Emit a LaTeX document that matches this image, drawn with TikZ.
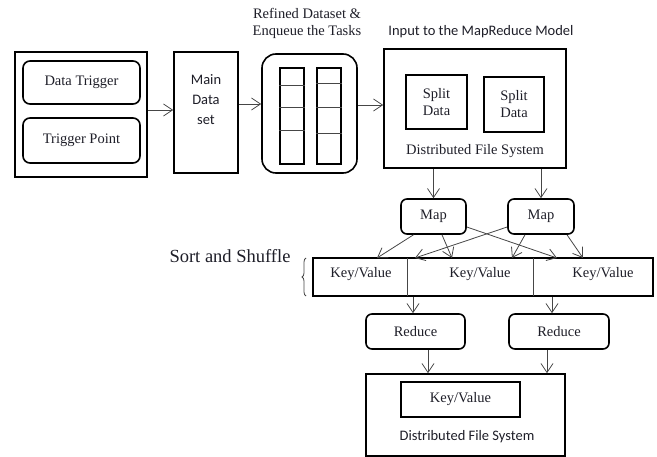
\documentclass[tikz,border=0pt]{standalone}
\usepackage{fontspec}
\setmainfont{Liberation Serif}
\newfontfamily\calibrifont{Carlito}
\usepackage{tikz}
\usetikzlibrary{arrows.meta,decorations.pathreplacing}
\definecolor{linegray}{RGB}{70,70,70}
\definecolor{inkblack}{RGB}{30,30,40}
\newcommand{\boxfont}{\fontsize{14.5}{17}\selectfont}
\newcommand{\sansbox}{\calibrifont\fontsize{14.5}{20}\selectfont}
\newcommand{\bigfont}{\fontsize{18.5}{22}\selectfont}

\begin{document}
\begin{tikzpicture}[x=1pt,y=-1pt,
          >={Straight Barb[length=9pt,width=12pt]},
          plain/.style={draw=black,line width=1.6pt,inner sep=0pt,
                        font=\boxfont,text=inkblack,align=center},
          roundbox/.style={plain,rounded corners=7pt},
          caption/.style={inner sep=0pt,align=center,font=\boxfont,text=inkblack},
          flow/.style={->,draw=linegray,line width=0.8pt},
          divider/.style={draw=linegray,line width=0.8pt}]
        \useasboundingbox (0,0) rectangle (657,457);
        % source of the data
        \node[plain,minimum width=132pt,minimum height=125pt] (src) at (81,114.5) {};
        \node[roundbox,minimum width=117pt,minimum height=43pt] (dtrig) at (81.5,82.5) {Data Trigger};
        \node[roundbox,minimum width=117pt,minimum height=45pt] (tpoint) at (81.5,140.5) {Trigger Point};
        \node[plain,minimum width=64pt,minimum height=121pt] (mainds) at (206,112.5) {};
        \node[caption,font=\sansbox] (mainlbl) at (206,100) {Main\\Data\\set};
        % queue of tasks
        \node[caption] (qtitle) at (307,23.5) {Refined Dataset \&\\Enqueue the Tasks};
        \node[roundbox,rounded corners=14pt,minimum width=95pt,minimum height=119pt] (queue) at (309.5,113.5) {};
        \node[plain,minimum width=24pt,minimum height=96pt] (colA) at (292,116) {};
        \node[plain,minimum width=24pt,minimum height=96pt] (colB) at (329,116) {};
        \foreach \y in {85,107,130}
          \draw[divider] (colA.west |- 0,\y) -- (colA.east |- 0,\y);
        \foreach \y in {83,107,133}
          \draw[divider] (colB.west |- 0,\y) -- (colB.east |- 0,\y);
        % input file system
        \node[caption,font=\sansbox] (dtitle) at (481,32) {Input to the MapReduce Model};
        \node[plain,minimum width=182pt,minimum height=119pt] (dfs) at (475,108.5) {};
        \node[plain,minimum width=61pt,minimum height=54pt] (split1) at (436.5,102) {Split\\Data};
        \node[plain,minimum width=60pt,minimum height=55pt] (split2) at (514,104.5) {Split\\Data};
        \node[caption] (dfslbl) at (475,151) {Distributed File System};
        \draw[flow] ([yshift=4.5pt]src.east) -- ([yshift=4.5pt]src.east -| mainds.west);
        \draw[flow] ([yshift=8.5pt]mainds.east) -- ([yshift=8.5pt]mainds.east -| queue.west);
        \draw[flow] ([yshift=8.5pt]queue.east) -- ([yshift=8.5pt]queue.east -| dfs.west);
        % map phase
        \node[roundbox,rounded corners=6pt,minimum width=65pt,minimum height=35pt] (map1) at (433.5,216.5) {Map};
        \node[roundbox,rounded corners=6pt,minimum width=66pt,minimum height=35pt] (map2) at (541,216.5) {Map};
        \draw[flow] (dfs.south -| map1) -- (map1.north);
        \draw[flow] (dfs.south -| map2) -- (map2.north);
        % sort and shuffle
        \node[caption,font=\bigfont] (sort) at (230,256) {Sort and Shuffle};
        \draw[divider,decorate,decoration={brace,amplitude=4pt}] (306,296) -- (306,258);
        \node[plain,minimum width=340pt,minimum height=38pt] (bar) at (483,277) {};
        \draw[divider] (407,258) -- (407,296);
        \draw[divider] (533,258) -- (533,296);
        \node[caption] (kv1) at (361,274) {Key/Value};
        \node[caption] (kv2) at (480,274) {Key/Value};
        \node[caption] (kv3) at (603,274) {Key/Value};
        \coordinate (in1) at (377,258);
        \coordinate (in2) at (452,258);
        \coordinate (in3) at (557,258);
        \coordinate (in4) at (415,258);
        \coordinate (in5) at (512,258);
        \coordinate (in6) at (583,258);
        \draw[flow] ([xshift=-20pt]map1.south) -- (in1);
        \draw[flow] ([xshift=8.5pt]map1.south) -- (in2);
        \draw[flow] ([yshift=-10.5pt]map1.east) -- (in3);
        \draw[flow] ([yshift=-10.5pt]map2.west) -- (in4);
        \draw[flow] ([xshift=-16pt]map2.south) -- (in5);
        \draw[flow] ([xshift=26pt]map2.south) -- (in6);
        % reduce phase
        \node[roundbox,rounded corners=6pt,minimum width=99pt,minimum height=35pt] (reduce1) at (415.5,331.5) {Reduce};
        \node[roundbox,rounded corners=6pt,minimum width=100pt,minimum height=35pt] (reduce2) at (559,331.5) {Reduce};
        \draw[flow] ([xshift=-2.5pt]reduce1.north |- bar.south) -- ([xshift=-2.5pt]reduce1.north);
        \draw[flow] ([xshift=-7pt]reduce2.north |- bar.south) -- ([xshift=-7pt]reduce2.north);
        % output file system
        \node[plain,minimum width=199pt,minimum height=82pt] (out) at (465.5,415) {};
        \node[plain,minimum width=119pt,minimum height=35pt] (outkv) at (460.5,399.5) {Key/Value};
        \node[caption,font=\sansbox] (outlbl) at (467,437) {Distributed File System};
        \draw[flow] ([xshift=12.5pt]reduce1.south) -- ([xshift=12.5pt]reduce1.south |- out.north);
        \draw[flow] ([xshift=-12pt]reduce2.south) -- ([xshift=-12pt]reduce2.south |- out.north);
\end{tikzpicture}
\end{document}
